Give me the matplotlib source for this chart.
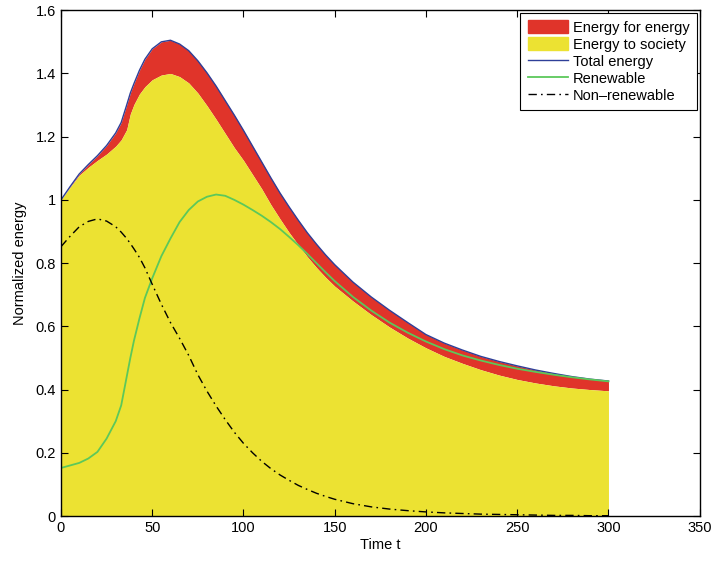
import matplotlib
matplotlib.use("Agg")
import matplotlib.pyplot as plt
import matplotlib.patches as mpatches
from matplotlib.lines import Line2D
from matplotlib.ticker import FuncFormatter

plt.rcParams['font.family'] = ['Liberation Sans', 'DejaVu Sans']

# values
t = [0, 5, 10, 15, 20, 25, 30, 33, 36, 38, 40, 43, 46, 50, 55, 60, 65, 70, 75, 80,
     85, 90, 95, 100, 105, 110, 115, 120, 125, 130, 135, 140, 145, 150, 160, 170,
     180, 190, 200, 210, 220, 230, 240, 250, 260, 270, 280, 290, 300]

total = [1.000, 1.042, 1.082, 1.112, 1.140, 1.172, 1.212, 1.245, 1.300, 1.338,
         1.368, 1.410, 1.445, 1.478, 1.500, 1.505, 1.493, 1.472, 1.440, 1.402,
         1.360, 1.314, 1.268, 1.220, 1.170, 1.120, 1.070, 1.022, 0.978, 0.936,
         0.896, 0.860, 0.826, 0.795, 0.740, 0.693, 0.651, 0.612, 0.574, 0.547,
         0.525, 0.505, 0.489, 0.475, 0.462, 0.451, 0.441, 0.433, 0.427]

society = [1.000, 1.040, 1.078, 1.103, 1.125, 1.145, 1.170, 1.190, 1.222, 1.272,
           1.302, 1.335, 1.358, 1.380, 1.395, 1.400, 1.390, 1.370, 1.338, 1.298,
           1.255, 1.210, 1.165, 1.125, 1.080, 1.035, 0.985, 0.940, 0.897, 0.858,
           0.820, 0.786, 0.755, 0.727, 0.680, 0.637, 0.598, 0.563, 0.532, 0.505,
           0.483, 0.463, 0.446, 0.432, 0.421, 0.412, 0.405, 0.400, 0.396]

renewable = [0.152, 0.160, 0.168, 0.182, 0.203, 0.245, 0.300, 0.350, 0.440, 0.500,
             0.555, 0.625, 0.690, 0.752, 0.822, 0.878, 0.930, 0.968, 0.995, 1.010,
             1.017, 1.013, 1.000, 0.985, 0.968, 0.950, 0.930, 0.908, 0.883, 0.857,
             0.829, 0.800, 0.771, 0.743, 0.693, 0.650, 0.612, 0.580, 0.552, 0.528,
             0.508, 0.492, 0.478, 0.466, 0.456, 0.447, 0.439, 0.432, 0.426]

nonrenewable = [0.852, 0.885, 0.915, 0.932, 0.940, 0.933, 0.915, 0.898, 0.878, 0.862,
                0.845, 0.818, 0.785, 0.733, 0.670, 0.612, 0.562, 0.508, 0.447, 0.395,
                0.348, 0.305, 0.265, 0.230, 0.200, 0.173, 0.150, 0.130, 0.113, 0.097,
                0.084, 0.072, 0.062, 0.053, 0.039, 0.029, 0.022, 0.017, 0.013, 0.010,
                0.008, 0.006, 0.005, 0.004, 0.003, 0.002, 0.002, 0.001, 0.001]

RED = "#e0342a"
YELLOW = "#ece232"
BLUE = "#2e3f98"
GREEN = "#5cc85a"
DASHDOT = (0, (6, 3, 1.2, 3))

fig = plt.figure(figsize=(7.14, 5.68), dpi=100)
ax = fig.add_axes([0.0854, 0.0915, 0.8946, 0.8905])

ax.fill_between(t, society, total, color=RED, linewidth=0)
ax.fill_between(t, 0, society, color=YELLOW, linewidth=0)
ax.plot(t, total, color=BLUE, linewidth=1.0)
ax.plot(t, renewable, color=GREEN, linewidth=1.3)
ax.plot(t, nonrenewable, color="black", linewidth=1.0, linestyle=DASHDOT)

ax.set_xlim(0, 350)
ax.set_ylim(0, 1.6)
ax.set_xticks(range(0, 351, 50))
ax.set_yticks([0, 0.2, 0.4, 0.6, 0.8, 1.0, 1.2, 1.4, 1.6])
ax.yaxis.set_major_formatter(FuncFormatter(lambda v, p: "%g" % round(v, 2)))
ax.tick_params(direction="in", top=True, right=True, labelsize=10.5, length=5, width=0.8)
ax.set_xlabel("Time t", fontsize=10.5, labelpad=2)
ax.set_ylabel("Normalized energy", fontsize=10.5, labelpad=6)
for s in ax.spines.values():
    s.set_linewidth(1.0)

handles = [
    mpatches.Patch(color=RED, label="Energy for energy"),
    mpatches.Patch(color=YELLOW, label="Energy to society"),
    Line2D([], [], color=BLUE, linewidth=1.0, label="Total energy"),
    Line2D([], [], color=GREEN, linewidth=1.3, label="Renewable"),
    Line2D([], [], color="black", linewidth=1.0, linestyle=DASHDOT, label="Non\u2013renewable"),
]
leg = ax.legend(handles=handles, loc="upper right", fontsize=10.5, fancybox=False,
                framealpha=1, edgecolor="black", borderaxespad=0.2,
                handlelength=2.75, handleheight=0.9, labelspacing=0.2,
                borderpad=0.5, handletextpad=0.35)
leg.get_frame().set_linewidth(0.8)

plt.savefig("out.png", dpi=100)
